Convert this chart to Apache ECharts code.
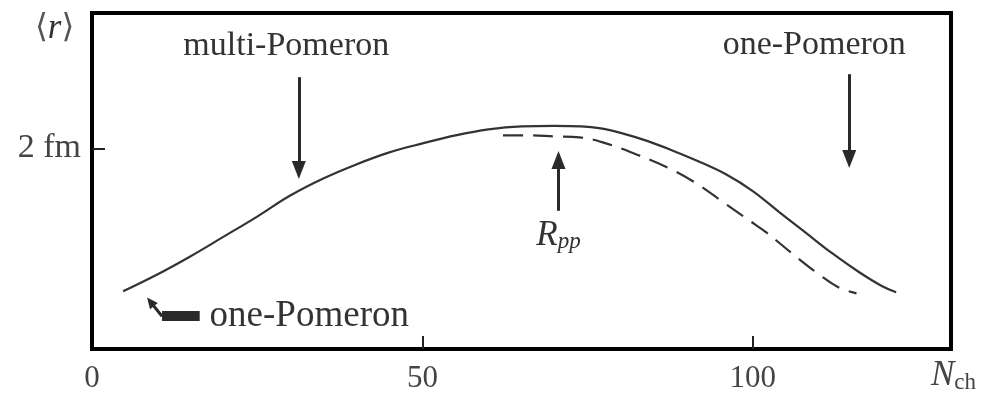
<!DOCTYPE html>
<html>
<head>
<meta charset="utf-8">
<script src="https://cdn.jsdelivr.net/npm/echarts@6/dist/echarts.min.js"></script>
<style>
  html, body { margin: 0; padding: 0; background: #fff; }
  #main { width: 986px; height: 394px; }
</style>
</head>
<body>
<div id="main"></div>
<script>
// solid curve: <r> (fm) against N_ch
const solidNch = [4.7, 9.8, 14.8, 19.8, 25, 30, 35, 40, 45, 50, 55, 60, 65, 70, 74, 77, 80, 84, 88, 92, 96, 100, 104, 108, 112, 116, 119.6, 121.7];
const solidR = [0.575, 0.74, 0.92, 1.115, 1.32, 1.53, 1.70, 1.84, 1.96, 2.05, 2.13, 2.19, 2.22, 2.225, 2.22, 2.20, 2.155, 2.075, 1.975, 1.865, 1.74, 1.575, 1.365, 1.16, 0.955, 0.77, 0.625, 0.565];

// dashed curve (R_pp)
const dashedNch = [62.2, 66, 70, 73.8, 77.3, 82.4, 87.4, 91.5, 95.4, 99.5, 102.1, 106, 110.1, 113.1, 115.7];
const dashedR = [2.13, 2.13, 2.12, 2.11, 2.06, 1.94, 1.80, 1.65, 1.47, 1.28, 1.16, 0.95, 0.74, 0.61, 0.555];

// axis ticks
const xTickValues = [0, 50, 100];
const xTickMarks = [50, 100];
const yTickValues = [2];
const yTickLabel = '2 fm';

const serif = '"Liberation Serif", "DejaVu Serif", serif';
const ink = '#333';

const chart = echarts.init(document.getElementById('main'));

chart.setOption({
  animation: false,
  grid: {
    left: 92,
    right: 35,
    top: 13,
    bottom: 43,
    show: true,
    borderColor: '#000',
    borderWidth: 4
  },
  xAxis: {
    type: 'value',
    min: 0,
    max: 130,
    axisLine: { show: false },
    splitLine: { show: false },
    axisTick: {
      show: true,
      inside: true,
      length: 13,
      customValues: xTickMarks,
      lineStyle: { color: '#222', width: 2 }
    },
    axisLabel: {
      customValues: xTickValues,
      margin: 14,
      color: '#444',
      fontFamily: serif,
      fontSize: 31
    }
  },
  yAxis: {
    type: 'value',
    min: 0,
    max: 3.35,
    axisLine: { show: false },
    splitLine: { show: false },
    axisTick: {
      show: true,
      inside: true,
      length: 13,
      customValues: yTickValues,
      lineStyle: { color: '#222', width: 2 }
    },
    axisLabel: {
      customValues: yTickValues,
      margin: 11,
      color: '#444',
      fontFamily: serif,
      fontSize: 34,
      formatter: () => yTickLabel
    }
  },
  graphic: [
    {
      type: 'text',
      left: 35,
      top: 11,
      style: {
        text: '{b|⟨}{r|r}{b|⟩}',
        rich: {
          b: { fontFamily: '"DejaVu Serif", serif', fontSize: 33, fill: '#555' },
          r: { fontFamily: serif, fontStyle: 'italic', fontSize: 35, fill: ink }
        }
      }
    },
    {
      type: 'text',
      left: 931,
      top: 358,
      style: {
        text: '{n|N}{s|ch}',
        rich: {
          n: { fontFamily: serif, fontStyle: 'italic', fontSize: 35, fill: '#444' },
          s: { fontFamily: serif, fontSize: 23, fill: '#444', padding: [15, 0, 0, 0] }
        }
      }
    }
  ],
  series: [
    {
      name: 'solid',
      type: 'line',
      smooth: 0.4,
      showSymbol: false,
      silent: true,
      lineStyle: { color: '#333', width: 2.2 },
      data: solidNch.map((x, i) => [x, solidR[i]]),
      markLine: {
        silent: true,
        symbol: ['none', 'triangle'],
        symbolSize: [14, 18],
        label: { show: false },
        lineStyle: { color: '#2a2a2a', width: 3, type: 'solid' },
        data: [
          [{ coord: [31.3, 2.71] }, { coord: [31.3, 1.785] }],
          [{ coord: [114.6, 2.74] }, { coord: [114.6, 1.894] }],
          [{ coord: [70.6, 1.378] }, { coord: [70.6, 1.884] }],
          [
            { coord: [10.6, 0.327], symbol: 'none', lineStyle: { width: 10 } },
            { coord: [16.3, 0.327], symbol: 'none' }
          ],
          [
            { coord: [10.6, 0.327], symbol: 'none', lineStyle: { width: 3, curveness: -0.35 } },
            { coord: [8.85, 0.47], symbolSize: [10, 11] }
          ]
        ]
      },
      markPoint: {
        silent: true,
        symbolSize: 0,
        label: {
          show: true,
          position: 'inside',
          color: ink,
          fontFamily: serif,
          fontSize: 34
        },
        data: [
          { coord: [29.4, 3.02], label: { formatter: 'multi-Pomeron' } },
          { coord: [109.3, 3.03], label: { formatter: 'one-Pomeron' } },
          { coord: [17.8, 0.33], label: { formatter: 'one-Pomeron', position: 'right', distance: 0, fontSize: 37 } },
          {
            coord: [70.6, 1.13],
            label: {
              formatter: '{R|R}{s|pp}',
              rich: {
                R: { fontFamily: serif, fontStyle: 'italic', fontSize: 35, color: ink },
                s: { fontFamily: serif, fontStyle: 'italic', fontSize: 23, color: ink, padding: [13, 0, 0, 0] }
              }
            }
          }
        ]
      }
    },
    {
      name: 'dashed',
      type: 'line',
      smooth: 0.4,
      showSymbol: false,
      silent: true,
      lineStyle: { color: '#333', width: 2.2, type: [20, 10] },
      data: dashedNch.map((x, i) => [x, dashedR[i]])
    }
  ]
});
</script>
</body>
</html>
